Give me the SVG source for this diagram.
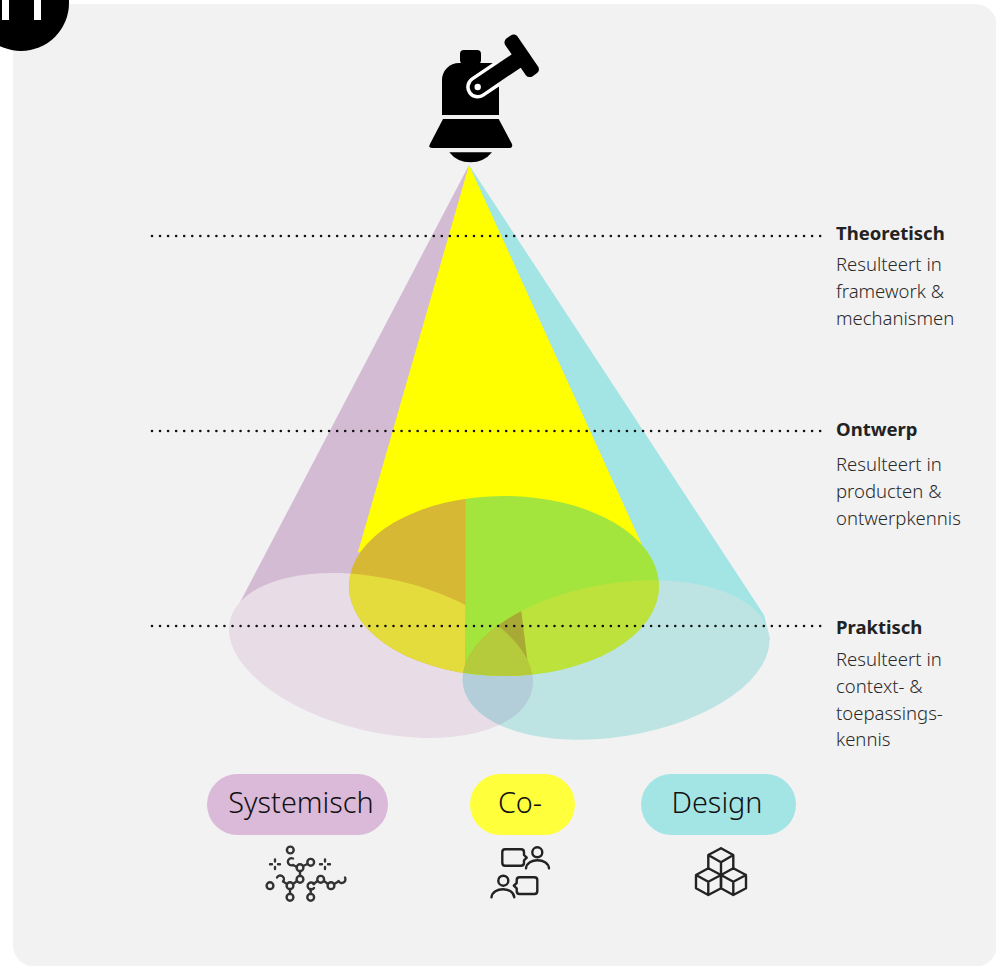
<svg xmlns="http://www.w3.org/2000/svg" width="996" height="966" viewBox="0 0 996 966">
<style>
.t{font-family:"Noto Sans",sans-serif;font-size:18.500px;font-weight:300;fill:#2a2a2a}
.b{font-weight:700;fill:#222}
.p{font-family:"Noto Sans",sans-serif;font-size:28.800px;font-weight:300;fill:#111;text-anchor:middle}
.dot{fill:none;stroke:#111;stroke-width:2.600;stroke-linecap:round;stroke-dasharray:0 8.05}
.ic{fill:none;stroke:#222;stroke-width:2.400;stroke-linecap:round;stroke-linejoin:round}
.m{fill:none;stroke:#333;stroke-width:2.400;stroke-linecap:round}
</style>
<defs>
<ellipse id="ey" cx="504" cy="586" rx="155" ry="90"/>
<ellipse id="ep" cx="381" cy="655.5" rx="155" ry="76.7" transform="rotate(13 381 655.5)"/>
<ellipse id="et" cx="616" cy="660" rx="155" ry="76.500" transform="rotate(-9.500 616 660)"/>
<clipPath id="cy"><use href="#ey"/></clipPath>
<clipPath id="cp"><use href="#ep"/></clipPath>
<clipPath id="ct"><use href="#et"/></clipPath>
<clipPath id="cb"><path d="M442 115V80a17 17 0 0 1 17-17H499V115Z"/></clipPath>
</defs>
<rect width="996" height="966" fill="#fff"/>
<rect id="panel" x="13" y="4" width="984" height="963" rx="22" fill="#f2f2f2"/>
<g id="badge"><circle cx="21" cy="3" r="48" fill="#000"/><rect x="2" y="0" width="7" height="20" fill="#fff"/><rect x="34" y="0" width="7" height="20" fill="#fff"/></g>
<g id="cones">
<path id="cone-systemisch" d="M469 165L236 610L381 660L470 640Z" fill="#d3bbd3"/>
<path id="cone-design" d="M469 165L764 615L770 640L616 660L466 660Z" fill="#a3e4e4"/>
<path id="cone-co" d="M469 165L358 552L504 600L642 545Z" fill="#ff0"/>
</g>
<g id="ellipses">
<use href="#ep" fill="#e8dce6"/>
<use href="#et" fill="#bde3e3"/>
<g clip-path="url(#cp)"><use href="#et" fill="#b3ced8"/></g>
<g clip-path="url(#cy)">
<rect x="340" y="490" width="126" height="190" fill="#d6b835"/>
<rect x="465.500" y="490" width="200" height="190" fill="#a3e53d"/>
<path d="M340 490H466L465 690H340Z" clip-path="url(#cp)" fill="#e3dc3c"/>
<g clip-path="url(#ct)">
<rect x="460" y="570" width="210" height="120" fill="#bee23c"/>
<path d="M460 600H520L528.500 670H460Z" fill="#a9a935"/>
<rect x="460" y="570" width="100" height="120" fill="#b5cb3c" clip-path="url(#cp)"/>
</g>
</g>
</g>
<g id="connectors">
<path class="dot" d="M152 236H822"/>
<path class="dot" d="M152 431H822"/>
<path class="dot" d="M152 626H822"/>
</g>
<g id="telescope">
<rect x="460" y="50" width="21" height="14" rx="4" fill="#000"/>
<path d="M442 115V80a17 17 0 0 1 17-17H499V115Z" fill="#000"/>
<path d="M477.700 87L515 62" stroke="#fff" stroke-width="23" stroke-linecap="round" clip-path="url(#cb)"/>
<path d="M477.700 87L517 60.500" stroke="#000" stroke-width="16" stroke-linecap="round"/>
<rect x="498.700" y="48.300" width="46" height="15" rx="5" fill="#000" transform="rotate(55.600 521.700 55.800)"/>
<circle cx="477.700" cy="87" r="3.200" fill="#fff"/>
<path d="M443 119H498.700L512 144Q513 148 509 148H432Q428 148 430 144Z" fill="#000"/>
<path d="M449.300 152.300H492Q484 162.300 470.500 162.300Q457 162.300 449.300 152.300Z" fill="#000"/>
</g>
<g id="level-theoretisch">
<text class="t b" x="836" y="240">Theoretisch</text>
<text class="t" x="836" y="271">Resulteert in</text>
<text class="t" x="836" y="298">framework &amp;</text>
<text class="t" x="836" y="325">mechanismen</text>
</g>
<g id="level-ontwerp">
<text class="t b" x="836" y="436">Ontwerp</text>
<text class="t" x="836" y="471">Resulteert in</text>
<text class="t" x="836" y="498">producten &amp;</text>
<text class="t" x="836" y="525">ontwerpkennis</text>
</g>
<g id="level-praktisch">
<text class="t b" x="836" y="634">Praktisch</text>
<text class="t" x="836" y="666">Resulteert in</text>
<text class="t" x="836" y="693">context- &amp;</text>
<text class="t" x="836" y="720">toepassings-</text>
<text class="t" x="836" y="746">kennis</text>
</g>
<g id="pill-systemisch"><rect x="207" y="774" width="181" height="61" rx="30.500" fill="#dbb9d8"/><text class="p" x="301" y="813">Systemisch</text></g>
<g id="pill-co"><rect x="470" y="774" width="105" height="61" rx="30.500" fill="#ffff3c"/><text class="p" x="520" y="813">Co-</text></g>
<g id="pill-design"><rect x="641" y="774" width="155" height="61" rx="30.500" fill="#a3e4e4"/><text class="p" x="717" y="813">Design</text></g>
<g id="icon-molecule" class="m">
<circle cx="290.300" cy="850" r="3.400"/><path d="M293 858.500A3.600 3.600 0 1 0 293 865"/>
<path d="M293 865L297 867"/><circle cx="300" cy="867.700" r="3.400"/><circle cx="310.700" cy="862.300" r="3.400"/><path d="M303 866L307.500 864"/>
<path d="M300 871V876"/><circle cx="300" cy="879.300" r="3.400"/><path d="M297 881L293 884"/><circle cx="290" cy="885.700" r="3.400"/>
<path d="M287 884L283 881.500"/><path d="M283.500 881A3.500 3.500 0 1 0 277 877.500"/><circle cx="270" cy="885.700" r="3.400"/>
<path d="M290 889V894"/><circle cx="290" cy="897.300" r="3.400"/>
<path d="M314 884A3.500 3.500 0 1 0 314 888"/><path d="M310.700 889V894"/><circle cx="310.700" cy="897.300" r="3.400"/>
<path d="M313.500 884L317.500 881"/><circle cx="320.700" cy="879.300" r="3.400"/><path d="M324 881L328 884"/><circle cx="331" cy="885.700" r="3.400"/><path d="M334 884L338.500 881.500"/><path d="M338.500 881A3.500 3.500 0 1 0 345 877.500"/>
<path d="M275 859.500v2M275 867v2M270 864.300h2M278 864.300h2M325 859.500v2M325 867v2M320 864.300h2M328 864.300h2"/>
</g>
<g id="icon-people" class="ic">
<path d="M505 849.300H521Q524 849.300 524 852.300V855L526.700 857.700L524 860.300V862.700Q524 865.700 521 865.700H505Q502.300 865.700 502.300 862.700V852.300Q502.300 849.300 505 849.300Z"/>
<circle cx="537.300" cy="852.300" r="5"/>
<path d="M526 868.300C527 857.500 548 857.500 549 868.300"/>
<circle cx="503.300" cy="880.700" r="5"/>
<path d="M491.500 897.300C492.500 886.500 513.500 886.500 514.300 897.300"/>
<path d="M534.500 877.300H519.500Q516.700 877.300 516.700 880.300V883L513.800 885.700L516.700 888.300V891Q516.700 894 519.500 894H534.500Q537.300 894 537.300 891V880.300Q537.300 877.300 534.500 877.300Z"/>
</g>
<g id="icon-cubes" class="ic">
<path d="M721 848.300L733.300 855V868.300M721 848.300L708.300 855V868.300M708.300 855L721 862.300L733.300 855M721 862.300V875"/>
<path d="M708.300 868.300L696 875V888.300L708.300 895L721 888.300V875ZM696 875L708.300 881.700L721 875M708.300 881.700V895"/>
<path d="M733.300 868.300L721 875V888.300L733.300 895L746 888.300V875ZM721 875L733.300 881.700L746 875M733.300 881.700V895"/>
</g>
</svg>
